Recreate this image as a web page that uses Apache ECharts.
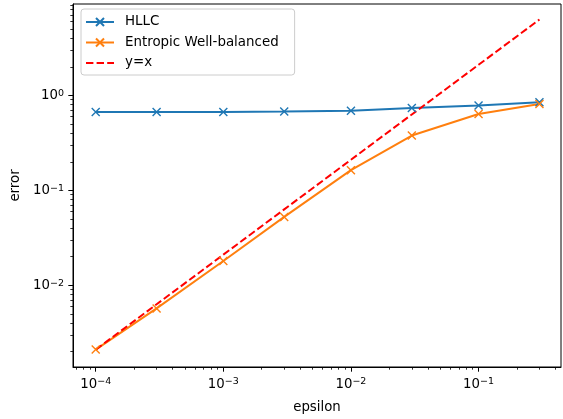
<!DOCTYPE html>
<html>
<head>
<meta charset="utf-8">
<script src="https://cdn.jsdelivr.net/npm/echarts@6/dist/echarts.min.js"></script>
<style>html,body{margin:0;padding:0;background:#fff}#c{width:563px;height:419px}</style>
</head>
<body>
<div id="c"></div>
<script>
// ---- data ----
const epsilon = [1e-4, 3e-4, 1e-3, 3e-3, 1e-2, 3e-2, 1e-1, 3e-1];
const hllc = [0.67, 0.67, 0.67, 0.675, 0.69, 0.735, 0.785, 0.845];
const entropic = [0.0021, 0.0057, 0.018, 0.0525, 0.163, 0.378, 0.638, 0.813];
const yEqualsX = [0.0021, 0.0063, 0.021, 0.063, 0.21, 0.63, 2.1, 6.3];
const seriesNames = ['HLLC', 'Entropic Well-balanced', 'y=x'];
const xMajorTicks = [1e-4, 1e-3, 1e-2, 1e-1];
const yMajorTicks = [1e-2, 1e-1, 1];
const xRange = [6.637e-5, 0.4426];
const yRange = [1.377e-3, 9.18];

function minorTicks(range) {
  const out = [];
  for (let d = -6; d <= 2; d++) {
    for (let m = 2; m <= 9; m++) {
      const v = m * Math.pow(10, d);
      if (v >= range[0] && v <= range[1]) out.push(v);
    }
  }
  return out;
}
const FONT = 'DejaVu Sans';
const supFmt = v => {
  const e = Math.round(Math.log10(v));
  return '{b|10}{s|' + (e < 0 ? '\u2212' + (-e) : String(e)) + '}';
};
const rich = {
  b: {fontFamily: FONT, fontSize: 13.3, color: '#000', lineHeight: 14, verticalAlign: 'bottom'},
  s: {fontFamily: FONT, fontSize: 9.5, color: '#000', lineHeight: 10, padding: [0, 0, 6, 0], verticalAlign: 'top'}
};
const xSym = 'path://M0,0L10,10M10,0L0,10';

const chart = echarts.init(document.getElementById('c'), null, {renderer: 'canvas'});
chart.setOption({
  animation: false,
  backgroundColor: '#fff',
  grid: {left: 73, right: 2, top: 4, bottom: 51, show: true, borderColor: '#000', borderWidth: 1, backgroundColor: 'transparent'},
  legend: {
    orient: 'vertical', left: 81, top: 9, padding: [6, 16, 5, 4], itemGap: 6.5,
    itemWidth: 28, itemHeight: 10,
    backgroundColor: 'rgba(255,255,255,0.8)', borderColor: '#cccccc', borderWidth: 1, borderRadius: 3,
    textStyle: {fontFamily: FONT, fontSize: 13.4, color: '#000', lineHeight: 14, padding: [0, 0, 0, 6]},
    data: [seriesNames[0], seriesNames[1], {name: seriesNames[2], itemStyle: {opacity: 0}}]
  },
  xAxis: [{
    type: 'log', min: xRange[0], max: xRange[1], position: 'bottom',
    name: 'epsilon', nameLocation: 'middle', nameGap: 34,
    nameTextStyle: {fontFamily: FONT, fontSize: 13.3, color: '#000'},
    axisLine: {show: true, lineStyle: {color: '#000', width: 1}},
    axisTick: {show: true, length: 4.7, lineStyle: {color: '#000', width: 1}, customValues: xMajorTicks},
    axisLabel: {show: true, margin: 10, customValues: xMajorTicks, formatter: supFmt, rich: rich},
    splitLine: {show: false}, minorTick: {show: false}
  }, {
    type: 'log', min: xRange[0], max: xRange[1], position: 'bottom', gridIndex: 0,
    axisLine: {show: false},
    axisTick: {show: true, length: 2.7, lineStyle: {color: '#000', width: 0.8}, customValues: minorTicks(xRange)},
    axisLabel: {show: false}, splitLine: {show: false}
  }],
  yAxis: [{
    type: 'log', min: yRange[0], max: yRange[1], position: 'left',
    name: 'error', nameLocation: 'middle', nameGap: 44,
    nameTextStyle: {fontFamily: FONT, fontSize: 13.3, color: '#000'},
    axisLine: {show: true, lineStyle: {color: '#000', width: 1}},
    axisTick: {show: true, length: 4.7, lineStyle: {color: '#000', width: 1}, customValues: yMajorTicks},
    axisLabel: {show: true, margin: 9, customValues: yMajorTicks, formatter: supFmt, rich: rich},
    splitLine: {show: false}, minorTick: {show: false}
  }, {
    type: 'log', min: yRange[0], max: yRange[1], position: 'left', gridIndex: 0,
    axisLine: {show: false},
    axisTick: {show: true, length: 2.7, lineStyle: {color: '#000', width: 0.8}, customValues: minorTicks(yRange)},
    axisLabel: {show: false}, splitLine: {show: false}
  }],
  series: [{
    name: seriesNames[0], type: 'line', xAxisIndex: 0, yAxisIndex: 0,
    data: epsilon.map((e, i) => [e, hllc[i]]),
    symbol: xSym, symbolSize: 8, showAllSymbol: true,
    lineStyle: {color: '#1f77b4', width: 2},
    itemStyle: {color: '#1f77b4', borderColor: '#1f77b4', borderWidth: 1.4}
  }, {
    name: seriesNames[1], type: 'line', xAxisIndex: 0, yAxisIndex: 0,
    data: epsilon.map((e, i) => [e, entropic[i]]),
    symbol: xSym, symbolSize: 8, showAllSymbol: true,
    lineStyle: {color: '#ff7f0e', width: 2},
    itemStyle: {color: '#ff7f0e', borderColor: '#ff7f0e', borderWidth: 1.4}
  }, {
    name: seriesNames[2], type: 'line', xAxisIndex: 0, yAxisIndex: 0,
    data: epsilon.map((e, i) => [e, yEqualsX[i]]),
    symbol: 'none',
    lineStyle: {color: '#ff0000', width: 2, type: [7.4, 3.2]},
    itemStyle: {color: '#ff0000'}
  }]
});
</script>
</body>
</html>
